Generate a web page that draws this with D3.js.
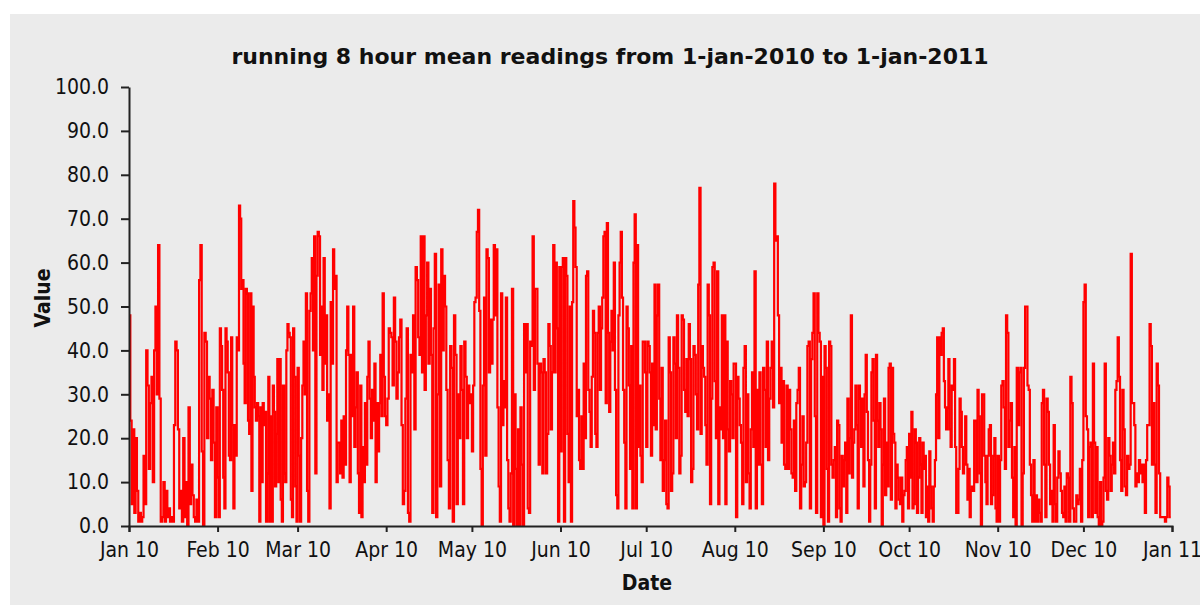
<!DOCTYPE html>
<html>
<head>
<meta charset="utf-8">
<script src="https://cdn.jsdelivr.net/npm/d3@7"></script>
<style>
body { margin: 0; background: #fff; }
svg text { font-family: "DejaVu Sans Condensed", "DejaVu Sans", sans-serif; }
</style>
</head>
<body>
<div id="chart"></div>
<script>
// month starts, and the readings for each month
// (values in each month are spread evenly over that month)
var months = ["2010-01", "2010-02", "2010-03", "2010-04", "2010-05", "2010-06",
              "2010-07", "2010-08", "2010-09", "2010-10", "2010-11", "2010-12"];

var jan = [48, 24, 5, 22, 3, 20, 8, 1, 3, 1, 2, 16, 5, 40, 32, 13, 28, 34, 10, 40, 50, 30, 64, 29, 1, 2, 10, 1, 8, 2, 4, 1, 2, 1, 23, 42, 40, 22, 4, 8, 1, 20, 2, 10, 0, 27, 5, 14, 7, 2, 1, 6, 1, 56, 64, 17, 0, 44, 42, 20, 34, 29, 15, 31, 19, 2, 27];
var feb = [11, 2, 45, 41, 31, 11, 4, 45, 42, 35, 16, 15, 43, 23, 4, 23, 16, 43, 40, 73, 70, 54, 56, 37, 28, 54, 53, 24, 21, 53, 8, 50, 34, 27, 24, 28, 25, 1, 27, 10, 28, 23, 26, 1, 12, 34, 1, 25, 1, 32, 26, 9, 21, 38, 10, 38, 6, 1, 32, 12, 10, 40, 46, 44, 43, 6, 2, 45, 34, 9, 1];
var mar = [36, 16, 1, 20, 32, 42, 30, 53, 8, 1, 49, 53, 61, 40, 66, 12, 57, 67, 66, 39, 50, 31, 61, 37, 48, 24, 30, 4, 51, 37, 63, 54, 57, 10, 19, 19, 12, 24, 11, 25, 14, 40, 50, 39, 10, 39, 25, 50, 18, 27, 35, 12, 3, 32, 2, 18, 10, 28, 14, 34, 42, 29, 20, 31, 24, 37, 10, 28, 17, 28, 39, 25, 53, 34, 25];
var apr = [23, 29, 45, 44, 43, 32, 52, 42, 29, 35, 43, 47, 23, 5, 8, 29, 45, 3, 1, 39, 35, 48, 22, 59, 56, 43, 39, 66, 35, 66, 31, 48, 60, 37, 54, 39, 3, 45, 62, 2, 30, 55, 9, 63, 40, 57, 50, 31, 15, 4, 41, 36, 1, 48, 39, 5, 30, 20, 41, 31, 5, 42, 34, 20, 32, 28, 30];
var may = [17, 32, 51, 52, 67, 72, 49, 13, 0, 32, 52, 16, 63, 61, 35, 47, 37, 47, 64, 48, 63, 27, 9, 1, 53, 23, 33, 27, 52, 15, 4, 1, 12, 54, 0, 30, 13, 0, 22, 0, 27, 14, 0, 46, 35, 46, 4, 3, 42, 41, 66, 31, 54, 54, 37, 14, 37, 35, 12, 38, 35, 12, 21, 46, 41, 22, 35, 64, 35, 60, 45, 1, 59];
var jun = [17, 59, 61, 1, 61, 57, 21, 10, 50, 1, 51, 74, 68, 59, 25, 31, 15, 13, 25, 13, 37, 20, 57, 58, 31, 26, 18, 34, 49, 44, 21, 18, 44, 50, 31, 45, 52, 66, 67, 28, 69, 44, 26, 42, 49, 40, 60, 31, 7, 4, 48, 60, 67, 52, 31, 19, 4, 50, 45, 32, 13, 41, 4, 60, 71, 4, 64, 18, 32, 16, 10, 42, 42, 35];
var jul = [18, 42, 41, 35, 16, 37, 23, 55, 22, 48, 55, 29, 15, 36, 8, 15, 24, 5, 4, 43, 35, 8, 12, 43, 37, 20, 48, 36, 12, 16, 48, 47, 31, 26, 38, 25, 46, 38, 10, 13, 41, 39, 30, 22, 55, 77, 21, 41, 36, 34, 23, 14, 55, 48, 5, 29, 59, 60, 33, 20, 58, 5, 27, 22, 48, 20, 48, 5, 42, 22, 17, 33, 30, 20, 37];
var aug = [37, 2, 34, 29, 23, 19, 5, 36, 41, 10, 30, 12, 4, 22, 35, 18, 58, 4, 31, 14, 35, 14, 5, 36, 31, 18, 42, 15, 29, 36, 42, 27, 78, 65, 66, 48, 28, 36, 19, 33, 14, 13, 32, 13, 31, 22, 12, 11, 24, 8, 28, 31, 36, 4, 14, 25, 9, 10, 19, 41, 42, 4, 38, 44, 53, 25, 3, 53, 44, 42, 2, 34];
var sep = [0, 41, 36, 13, 1, 42, 41, 14, 11, 15, 18, 2, 24, 23, 4, 1, 16, 9, 15, 19, 3, 29, 12, 20, 48, 11, 19, 22, 32, 23, 4, 32, 29, 18, 29, 9, 30, 39, 26, 15, 1, 14, 35, 38, 24, 4, 39, 24, 18, 28, 22, 0, 14, 29, 7, 19, 9, 36, 37, 6, 36, 21, 19, 4, 14, 11, 6, 5, 11, 1, 7, 8, 15, 18, 4];
var oct = [21, 11, 26, 4, 5, 22, 19, 3, 11, 20, 14, 3, 19, 13, 16, 2, 9, 1, 17, 9, 4, 1, 9, 15, 30, 43, 20, 43, 39, 44, 45, 33, 27, 22, 27, 38, 22, 18, 32, 31, 38, 18, 3, 3, 13, 29, 26, 18, 12, 14, 25, 14, 6, 13, 2, 8, 9, 8, 24, 24, 10, 31, 25, 12, 0, 30, 30, 16, 10, 5, 16, 22, 23, 5, 7, 16, 20, 4, 1];
var nov = [16, 1, 15, 32, 33, 27, 13, 48, 44, 18, 24, 28, 11, 2, 18, 0, 36, 23, 35, 36, 0, 12, 36, 50, 50, 32, 31, 14, 7, 1, 15, 1, 7, 1, 6, 3, 1, 28, 31, 14, 2, 29, 26, 14, 5, 8, 1, 23, 5, 1, 11, 17, 12, 8, 3, 2, 9, 1, 12, 11, 1, 34, 28, 4, 1, 1, 7, 5, 6, 13, 1, 15];
var dec = [51, 55, 25, 22, 2, 18, 19, 2, 37, 19, 3, 18, 2, 0, 10, 0, 1, 11, 37, 8, 6, 20, 16, 8, 14, 19, 12, 31, 33, 43, 34, 15, 8, 31, 22, 9, 7, 16, 13, 14, 62, 28, 28, 23, 9, 12, 10, 15, 12, 14, 10, 14, 3, 15, 23, 23, 46, 41, 14, 28, 14, 3, 37, 32, 12, 2, 2, 2, 2, 1, 2, 11, 9, 2, 2];

var monthValues = [jan, feb, mar, apr, may, jun, jul, aug, sep, oct, nov, dec];
var yTicks = [0, 10, 20, 30, 40, 50, 60, 70, 80, 90, 100];
var titleText = "running 8 hour mean readings from 1-jan-2010 to 1-jan-2011";

var W = 1200, H = 605;
var margin = {top: 87, right: 28, bottom: 79, left: 129};
var width = W - margin.left - margin.right,
    height = H - margin.top - margin.bottom;

var parseMonth = d3.timeParse("%Y-%m");
var data = [];
months.forEach(function(m, i) {
  var start = parseMonth(m), end = d3.timeMonth.offset(start, 1);
  var vals = monthValues[i];
  vals.forEach(function(v, k) {
    data.push({date: new Date(+start + (end - start) * k / vals.length), value: v});
  });
});

var svg = d3.select("#chart").append("svg")
  .attr("width", W).attr("height", H);

// grey panel
svg.append("rect")
  .attr("x", 10).attr("y", 14)
  .attr("width", W - 10).attr("height", H - 14)
  .attr("fill", "#ebebeb");

var g = svg.append("g")
  .attr("transform", "translate(" + margin.left + "," + margin.top + ")");

var x = d3.scaleTime()
  .domain([parseMonth("2010-01"), parseMonth("2011-01")])
  .range([0, width]);
var y = d3.scaleLinear().domain([0, 100]).range([height, 0]);

// line
var line = d3.line()
  .x(function(d) { return x(d.date); })
  .y(function(d) { return y(d.value); })
  .curve(d3.curveStepAfter);

g.append("path")
  .datum(data)
  .attr("fill", "none")
  .attr("stroke", "#ff0000")
  .attr("stroke-width", 2.2)
  .attr("d", line);

// axes
var xAxis = g.append("g")
  .attr("transform", "translate(0," + height + ")")
  .call(d3.axisBottom(x).ticks(d3.timeMonth.every(1)).tickFormat(d3.timeFormat("%b %y")).tickSizeOuter(6).tickSize(6).tickPadding(10));
var yAxis = g.append("g")
  .call(d3.axisLeft(y).tickValues(yTicks).tickFormat(d3.format(".1f")).tickSize(8).tickSizeOuter(0).tickPadding(12));

[xAxis, yAxis].forEach(function(a) {
  a.selectAll("path, line").attr("stroke", "#222").attr("stroke-width", 2);
  a.selectAll("text").attr("fill", "#111").style("font-size", "21px");
});

// title and axis labels
svg.append("text")
  .attr("x", 610).attr("y", 64)
  .attr("text-anchor", "middle")
  .style("font-family", "'DejaVu Sans', sans-serif")
  .style("font-size", "22px").style("font-weight", "bold")
  .attr("fill", "#111")
  .text(titleText);

svg.append("text")
  .attr("x", 647).attr("y", 590)
  .attr("text-anchor", "middle")
  .style("font-size", "21px").style("font-weight", "bold")
  .attr("fill", "#111")
  .text("Date");

svg.append("text")
  .attr("transform", "translate(50,298) rotate(-90)")
  .attr("text-anchor", "middle")
  .style("font-size", "21px").style("font-weight", "bold")
  .attr("fill", "#111")
  .text("Value");
</script>
</body>
</html>
